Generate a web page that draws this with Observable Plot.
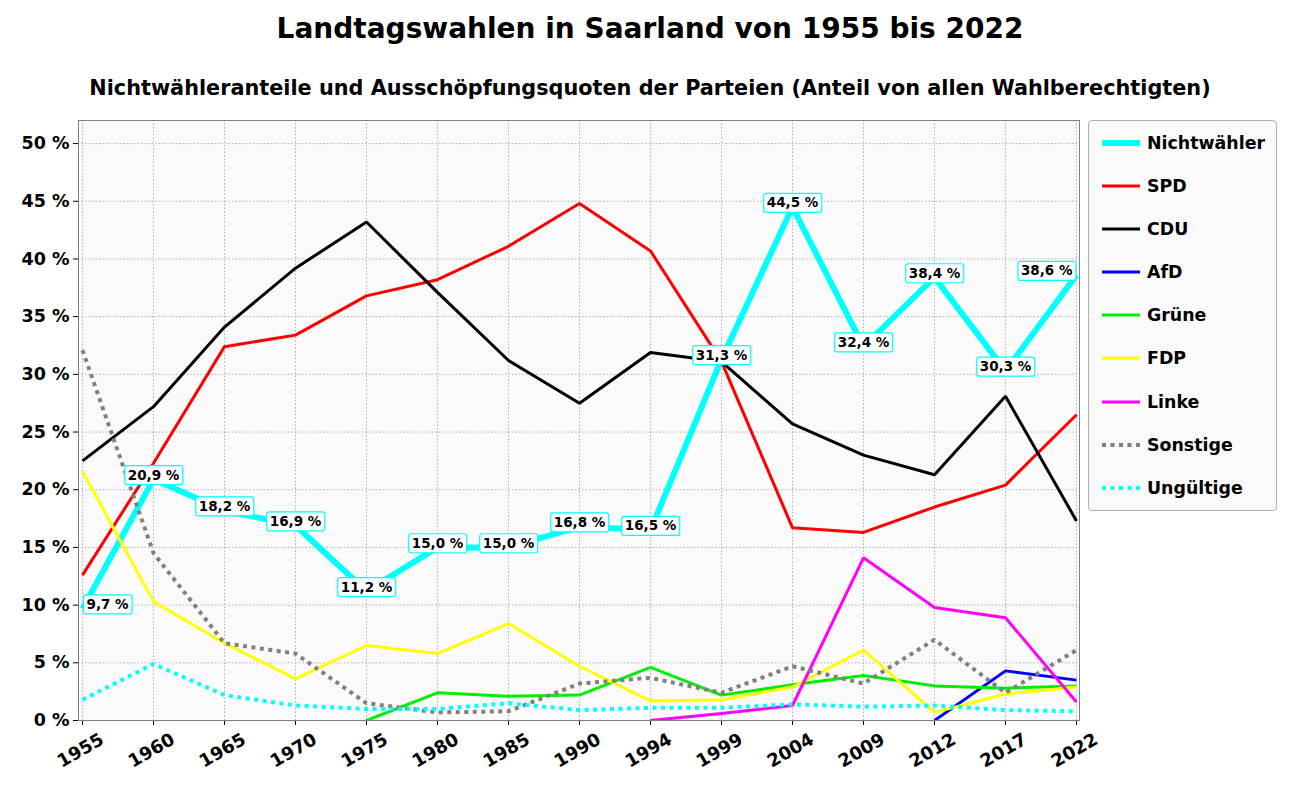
<!DOCTYPE html>
<html><head><meta charset="utf-8">
<script src="https://cdn.jsdelivr.net/npm/d3@7"></script>
<script src="https://cdn.jsdelivr.net/npm/@observablehq/plot@0.6"></script>
<style>
body{margin:0;background:#fff;font-family:"DejaVu Sans",sans-serif;}
#wrap{position:relative;width:1300px;height:800px;overflow:hidden;}
#title{position:absolute;left:0;width:1300px;top:15px;text-align:center;font-weight:bold;font-size:28px;line-height:1;}
#subtitle{position:absolute;left:0;width:1300px;top:78px;text-align:center;font-weight:bold;font-size:20.8px;line-height:1;}
#chart{position:absolute;left:0;top:110px;}
#legend{position:absolute;left:1088px;top:120px;width:187px;height:389px;border:1px solid #b0b0b0;border-radius:4px;background:rgba(250,250,250,0.9);}
.row{position:absolute;left:12px;height:20px;display:flex;align-items:center;font-weight:bold;font-size:17.4px;}
.row svg{margin-right:6px;}
</style></head>
<body>
<div id="wrap">
<div id="title">Landtagswahlen in Saarland von 1955 bis 2022</div>
<div id="subtitle">Nichtwähleranteile und Ausschöpfungsquoten der Parteien (Anteil von allen Wahlberechtigten)</div>
<div id="chart"></div>
<div id="legend"></div>
</div>
<script>
const years = ["1955","1960","1965","1970","1975","1980","1985","1990","1994","1999","2004","2009","2012","2017","2022"];
const nichtwaehler = [9.7,20.9,18.2,16.9,11.2,15.0,15.0,16.8,16.5,31.3,44.5,32.4,38.4,30.3,38.6];
const spd = [12.6,22.3,32.4,33.4,36.8,38.2,41.1,44.8,40.7,31.1,16.7,16.3,18.5,20.4,26.5];
const cdu = [22.5,27.2,34.1,39.2,43.2,37.1,31.2,27.5,31.9,31.1,25.7,23.0,21.3,28.1,17.3];
const afd = [null,null,null,null,null,null,null,null,null,null,null,null,0,4.3,3.5];
const gruene = [null,null,null,null,0,2.4,2.1,2.2,4.6,2.2,3.1,3.9,3.0,2.8,3.0];
const fdp = [21.6,10.3,6.7,3.6,6.5,5.8,8.4,4.7,1.7,1.8,2.9,6.1,0.7,2.3,2.9];
const linke = [null,null,null,null,null,null,null,null,0,0.6,1.3,14.1,9.8,8.9,1.6];
const sonstige = [32.1,14.5,6.7,5.8,1.5,0.7,0.8,3.2,3.7,2.4,4.7,3.2,7.0,2.4,6.1];
const ungueltige = [1.8,4.9,2.2,1.3,1.0,1.0,1.5,0.9,1.1,1.1,1.4,1.2,1.3,0.9,0.8];

const seriesNames = ["Nichtwähler","SPD","CDU","AfD","Grüne","FDP","Linke","Sonstige","Ungültige"];
const seriesValues = [nichtwaehler,spd,cdu,afd,gruene,fdp,linke,sonstige,ungueltige];
const seriesColors = ["#00ffff","#ff0000","#000000","#0000ff","#00ee00","#ffff00","#ff00ff","#808080","#00ffff"];
const seriesWidths = [6,3,3,3,3,3,3,4,4];
const seriesDash = [null,null,null,null,null,null,null,"4,4.5","4,4.5"];
const yTicks = [0,5,10,15,20,25,30,35,40,45,50];

const rows = [];
seriesNames.forEach((s,i) => years.forEach((y,j) => {
  const v = seriesValues[i][j];
  if (v != null) rows.push({series:s, year:y, value:v});
}));
const nwRows = years.map((y,j) => ({year:y, value:nichtwaehler[j], idx:j}));
const fmt = d => d.value.toFixed(1).replace(".", ",") + " %";

const lineMarks = seriesNames.map((s,i) => Plot.line(rows.filter(r => r.series === s), {
  x:"year", y:"value", stroke: seriesColors[i], strokeWidth: seriesWidths[i],
  strokeDasharray: seriesDash[i] || undefined, strokeLinecap: "butt", strokeLinejoin:"miter", clip:true
}));

const labelOpts = {x:"year", y:"value", dy:-4, text:fmt, fontSize:13.5, fontWeight:"bold", fill:"#000"};

const chart = Plot.plot({
  width:1300, height:690,
  marginTop:10, marginBottom:80, marginLeft:78, marginRight:221,
  style:{fontFamily:"DejaVu Sans, sans-serif", background:"transparent"},
  x:{type:"point", domain:years, padding:0, label:null},
  y:{domain:[0,52], label:null},
  marks:[
    Plot.frame({fill:"#fafafa", stroke:null}),
    Plot.gridX(years, {stroke:"#b0b0b0", strokeOpacity:1, strokeDasharray:"1.5,2"}),
    Plot.gridY(yTicks, {stroke:"#b0b0b0", strokeOpacity:1, strokeDasharray:"1.5,2"}),
    Plot.axisY(yTicks, {tickSize:5, tickPadding:4, tickFormat:d => d + " %", fontSize:17.5, fontWeight:"bold", fill:"#000", stroke:"#000", label:null}),
    Plot.axisX(years, {tickSize:5, tickFormat:() => "", stroke:"#000", label:null}),
    Plot.text(years, {x:d => d, frameAnchor:"bottom", dy:35, dx:1, rotate:-30, text:d => d, fontSize:18, fontWeight:"bold", fill:"#000", textAnchor:"middle"}),
    ...lineMarks,
    Plot.frame({stroke:"#808080", strokeWidth:1}),
    Plot.text(nwRows.filter(d => d.idx === 0), {...labelOpts, textAnchor:"start", dx:4}),
    Plot.text(nwRows.filter(d => d.idx > 0 && d.idx < years.length - 1), {...labelOpts, textAnchor:"middle"}),
    Plot.text(nwRows.filter(d => d.idx === years.length - 1), {...labelOpts, textAnchor:"end", dx:-4})
  ]
});
document.getElementById("chart").appendChild(chart);

// boxes behind Nichtwähler labels
const re = /^\d+,\d %$/;
Array.from(chart.querySelectorAll("text")).filter(t => re.test(t.textContent)).forEach(t => {
  const b = t.getBBox();
  const r = document.createElementNS("http://www.w3.org/2000/svg","rect");
  const px = 3, py = 2;
  r.setAttribute("x", b.x - px); r.setAttribute("y", b.y - py + 1);
  r.setAttribute("width", b.width + 2*px); r.setAttribute("height", b.height + 2*py - 1);
  r.setAttribute("rx", 2.5);
  r.setAttribute("fill", "#ffffff"); r.setAttribute("stroke", "#00ffff"); r.setAttribute("stroke-width", 1.2);
  if (t.getAttribute("transform")) r.setAttribute("transform", t.getAttribute("transform"));
  t.parentNode.insertBefore(r, t);
});

// legend
const leg = document.getElementById("legend");
const rowTops = [22,65,108,151,194,237,281,324,367];
seriesNames.forEach((s,i) => {
  const d = document.createElement("div");
  d.className = "row";
  d.style.top = (rowTops[i] - 10) + "px";
  const dash = seriesDash[i] ? `stroke-dasharray="4,4.5"` : "";
  d.innerHTML = `<svg width="40" height="20"><line x1="1" x2="39" y1="10" y2="10" stroke="${seriesColors[i]}" stroke-width="${seriesWidths[i]}" ${dash}/></svg><span>${s}</span>`;
  leg.appendChild(d);
});
</script>
</body></html>
